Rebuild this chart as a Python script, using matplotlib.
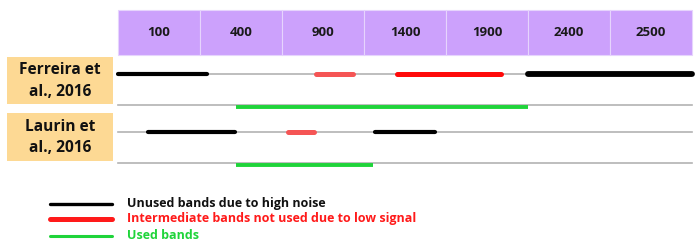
import matplotlib
matplotlib.use("Agg")
import matplotlib.pyplot as plt
from matplotlib.patches import Rectangle

# ---- data ----
wavelengths = ["100", "400", "900", "1400", "1900", "2400", "2500"]
studies = ["Ferreira et\nal., 2016", "Laurin et\nal., 2016"]
# segments in column units (0..7): (start, end, kind)
ferreira_excluded = [(0.0, 1.08, "noise"), (2.42, 2.86, "lowsig_light"),
                     (3.40, 4.67, "lowsig"), (5.0, 7.0, "noise_thick")]
ferreira_used = [(1.44, 5.0)]
laurin_excluded = [(0.36, 1.43, "noise"), (2.07, 2.39, "lowsig_light"),
                   (3.13, 3.86, "noise")]
laurin_used = [(1.44, 3.11)]
legend_labels = ["Unused bands due to high noise",
                 "Intermediate bands not used due to low signal",
                 "Used bands"]

# ---- styles ----
plt.rcParams['font.family'] = ['Open Sans', 'DejaVu Sans']
PURPLE = "#cca1fc"
ORANGE = "#fdd994"
GRAY = "#b3b3b3"
styles = {
    "noise": dict(color="black", lw=3.0),
    "noise_thick": dict(color="black", lw=4.2),
    "lowsig": dict(color="#ff0a0a", lw=3.6),
    "lowsig_light": dict(color="#f55555", lw=3.6),
}
GREEN = "#1fd43a"

fig = plt.figure(figsize=(6.99, 2.46), dpi=100)
ax = fig.add_axes([0, 0, 1, 1])
unit = 82.0
x0 = 118.0
ax.set_xlim(-x0 / unit, (699 - x0) / unit)
ax.set_ylim(246, 0)
ax.axis("off")

# header
for i, w in enumerate(wavelengths):
    ax.add_patch(Rectangle((i, 10), 1, 45, facecolor=PURPLE,
                           edgecolor="#e6d4fd", lw=0.8))
    ax.text(i + 0.5, 32, w, ha="center", va="center", fontsize=9.5,
            fontweight="bold", color="#1a1a1a")

# row labels
label_boxes = [(57, 104), (113, 161)]
for (top, bot), s in zip(label_boxes, studies):
    ax.add_patch(Rectangle((-111 / unit, top), 106 / unit, bot - top,
                           facecolor=ORANGE, edgecolor="none"))
    ax.text(-58 / unit, (top + bot) / 2 + 0.5, s, ha="center", va="center",
            fontsize=11.2, fontweight="bold", color="#111111",
            linespacing=1.45)

n = len(wavelengths)
rows = [(74, ferreira_excluded, 105, ferreira_used),
        (132, laurin_excluded, 163, laurin_used)]
for y1, excl, y2, used in rows:
    ax.plot([0, n], [y1, y1], color=GRAY, lw=1.2, zorder=2)
    ax.plot([0, n], [y2, y2], color=GRAY, lw=1.2, zorder=2)
    for a, b, k in excl:
        ax.plot([a, b], [y1, y1], solid_capstyle="round", zorder=3, **styles[k])
    for a, b in used:
        ax.plot([a, b], [y2 + 1.5, y2 + 1.5], color=GREEN, lw=2.8,
                solid_capstyle="butt", zorder=3)

# legend
leg_y = [204, 219, 236]
leg_colors = ["black", "#ff1a1a", GREEN]
leg_lw = [2.4, 3.6, 2.2]
for y, c, lw, lab in zip(leg_y, leg_colors, leg_lw, legend_labels):
    ax.plot([(50 - x0) / unit, (112 - x0) / unit], [y, y], color=c, lw=lw,
            solid_capstyle="round")
    ax.text((127 - x0) / unit, y - 0.5, lab, ha="left", va="center",
            fontsize=9, fontweight="bold",
            color=("#111111" if c == "black" else c))

fig.savefig("out.png", dpi=100)
